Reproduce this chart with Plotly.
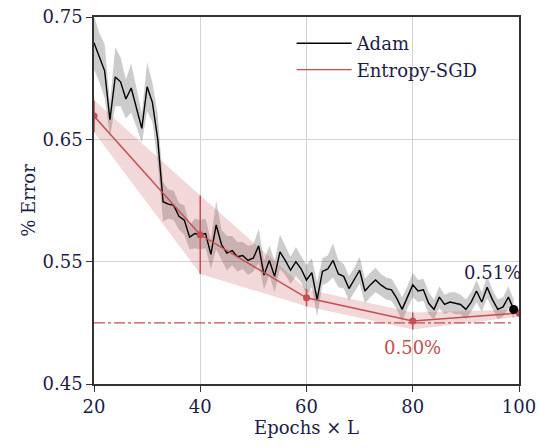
import plotly.graph_objects as go

# ---------------- data ----------------
adam_epochs = list(range(20, 100))
adam_err = [0.729, 0.717, 0.706, 0.666, 0.701, 0.697, 0.683, 0.692, 0.676, 0.659,
            0.693, 0.680, 0.650, 0.599, 0.597, 0.596, 0.587, 0.584, 0.570, 0.573,
            0.572, 0.573, 0.556, 0.580, 0.564, 0.557, 0.559, 0.554, 0.555, 0.551,
            0.553, 0.563, 0.539, 0.551, 0.538, 0.558, 0.551, 0.543, 0.550, 0.544,
            0.535, 0.541, 0.519, 0.542, 0.544, 0.551, 0.540, 0.538, 0.528, 0.535,
            0.543, 0.526, 0.531, 0.535, 0.531, 0.528, 0.527, 0.520, 0.511, 0.521,
            0.531, 0.526, 0.527, 0.516, 0.511, 0.521, 0.515, 0.517, 0.516, 0.515,
            0.511, 0.517, 0.526, 0.517, 0.529, 0.519, 0.511, 0.513, 0.521, 0.511]
adam_std = [0.022, 0.020, 0.022, 0.014, 0.024, 0.020, 0.016, 0.020, 0.016, 0.012,
            0.020, 0.016, 0.020, 0.016, 0.012, 0.012, 0.011, 0.012, 0.010, 0.012,
            0.012, 0.012, 0.012, 0.020, 0.012, 0.014, 0.012, 0.012, 0.011, 0.012,
            0.011, 0.014, 0.012, 0.012, 0.013, 0.014, 0.012, 0.011, 0.012, 0.011,
            0.012, 0.012, 0.014, 0.011, 0.011, 0.014, 0.011, 0.010, 0.010, 0.010,
            0.011, 0.010, 0.010, 0.010, 0.009, 0.009, 0.009, 0.009, 0.010, 0.009,
            0.010, 0.009, 0.009, 0.009, 0.008, 0.009, 0.008, 0.008, 0.009, 0.008,
            0.008, 0.008, 0.009, 0.008, 0.009, 0.008, 0.008, 0.008, 0.009, 0.008]

esgd_epochs = [20, 40, 60, 80, 100]
esgd_err = [0.669, 0.572, 0.5205, 0.5015, 0.508]
esgd_std = [0.013, 0.032, 0.007, 0.007, 0.003]

best_esgd = 0.50
best_adam_epoch, best_adam = 99, 0.511

x_ticks = [20, 40, 60, 80, 100]
y_ticks = [0.45, 0.55, 0.65, 0.75]

# ---------------- style ----------------
RED = "#c44e52"
TXT = "#1c1c4a"
FONT = "DejaVu Serif"
FS = 18

fig = go.Figure()

# Adam band
up = [m + s for m, s in zip(adam_err, adam_std)]
lo = [m - s for m, s in zip(adam_err, adam_std)]
fig.add_trace(go.Scatter(x=adam_epochs + adam_epochs[::-1], y=up + lo[::-1],
                         mode="lines", fill="toself", fillcolor="rgba(0,0,0,0.2)",
                         line=dict(width=0), hoverinfo="skip", showlegend=False))

# Entropy-SGD band
eup = [m + s for m, s in zip(esgd_err, esgd_std)]
elo = [m - s for m, s in zip(esgd_err, esgd_std)]
fig.add_trace(go.Scatter(x=esgd_epochs + esgd_epochs[::-1], y=eup + elo[::-1],
                         mode="lines", fill="toself", fillcolor="rgba(196,78,82,0.22)",
                         line=dict(width=0), hoverinfo="skip", showlegend=False))

# dashed best line
fig.add_trace(go.Scatter(x=[20, 99], y=[best_esgd, best_esgd], mode="lines",
                         line=dict(color=RED, width=1.3, dash="11px,3px,3px,3px"),
                         showlegend=False, hoverinfo="skip"))

# Adam line
fig.add_trace(go.Scatter(x=adam_epochs, y=adam_err, mode="lines", name="Adam",
                         line=dict(color="black", width=1.4)))

# Entropy-SGD line
fig.add_trace(go.Scatter(x=esgd_epochs, y=esgd_err, mode="lines",
                         name="Entropy-SGD",
                         line=dict(color=RED, width=1.4)))
fig.add_trace(go.Scatter(x=esgd_epochs, y=esgd_err, mode="markers",
                         marker=dict(color=RED, size=7), showlegend=False,
                         error_y=dict(type="data", array=esgd_std, color=RED,
                                      thickness=1.5, width=0)))

fig.add_trace(go.Scatter(x=[best_adam_epoch], y=[best_adam], mode="markers",
                         marker=dict(color="black", size=9), showlegend=False))

fig.add_annotation(x=95, y=0.5415, text="0.51%", showarrow=False,
                   font=dict(family=FONT, size=FS, color=TXT))
fig.add_annotation(x=80, y=0.4795, text="0.50%", showarrow=False,
                   font=dict(family=FONT, size=FS, color=RED))

axis_common = dict(showline=True, linecolor="#333333", linewidth=1.5, mirror=True,
                   showgrid=True, gridcolor="#d3d3d3", gridwidth=1,
                   ticks="outside", ticklen=6, tickcolor="#333333", tickwidth=1.2,
                   zeroline=False, automargin=False,
                   tickfont=dict(family=FONT, size=FS, color=TXT))

fig.update_xaxes(range=[20, 100], tickvals=x_ticks,
                 title=dict(text="Epochs × L", font=dict(family=FONT, size=FS, color=TXT),
                            standoff=2),
                 **axis_common)
fig.update_yaxes(range=[0.45, 0.75], tickvals=y_ticks,
                 ticktext=[f"{v:.2f}" for v in y_ticks],
                 title=dict(text="% Error", font=dict(family=FONT, size=FS, color=TXT),
                            standoff=2),
                 **axis_common)

fig.update_layout(width=539, height=448,
                  margin=dict(l=94, r=20, t=17, b=64),
                  plot_bgcolor="white", paper_bgcolor="white",
                  legend=dict(x=0.465, y=0.978, xanchor="left", yanchor="top",
                              bgcolor="rgba(0,0,0,0)",
                              font=dict(family=FONT, size=FS, color=TXT),
                              tracegroupgap=0, itemwidth=55))

fig.write_html("out.html", config={"displayModeBar": False},
               post_script="document.body.style.margin='0';document.body.style.overflow='hidden';")
